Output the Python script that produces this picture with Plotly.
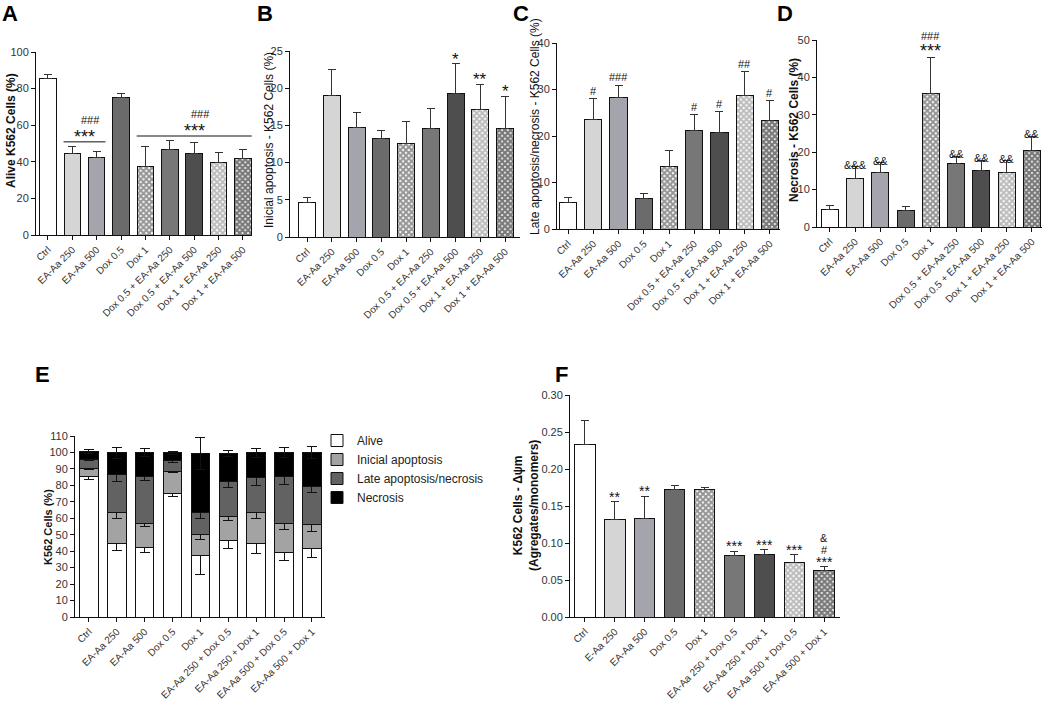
import plotly.graph_objects as go

W, H = 1045, 705

# ---- data ----
groups_ad = ["Ctrl", "EA-Aa 250", "EA-Aa 500", "Dox 0.5", "Dox 1",
             "Dox 0.5 + EA-Aa 250", "Dox 0.5 + EA-Aa 500",
             "Dox 1 + EA-Aa 250", "Dox 1 + EA-Aa 500"]
groups_e = ["Ctrl", "EA-Aa 250", "EA-Aa 500", "Dox 0.5", "Dox 1",
            "EA-Aa 250 + Dox 0.5", "EA-Aa 250 + Dox 1",
            "EA-Aa 500 + Dox 0.5", "EA-Aa 500 + Dox 1"]
groups_f = ["Ctrl", "E-Aa 250", "EA-Aa 500", "Dox 0.5", "Dox 1",
            "EA-Aa 250 + Dox 0.5", "EA-Aa 250 + Dox 1",
            "EA-Aa 500 + Dox 0.5", "EA-Aa 500 + Dox 1"]

alive = [85.5, 44.4, 42.4, 75.3, 37.3, 46.7, 44.4, 39.5, 41.6]
alive_err = [2.0, 4.0, 3.2, 1.8, 11.2, 4.9, 6.0, 5.4, 5.3]
early_apo = [4.7, 19.0, 14.7, 13.3, 12.6, 14.6, 19.3, 17.1, 14.6]
early_apo_err = [0.6, 3.5, 2.1, 1.0, 2.9, 2.7, 4.0, 3.4, 4.3]
late_apo = [5.8, 23.5, 28.3, 6.6, 13.5, 21.1, 20.8, 28.8, 23.4]
late_apo_err = [1.0, 4.5, 2.6, 1.1, 3.4, 3.5, 4.4, 5.0, 4.2]
necrosis = [4.6, 12.9, 14.6, 4.5, 35.8, 16.9, 15.2, 14.5, 20.4]
necrosis_err = [1.2, 3.2, 2.6, 1.1, 9.6, 2.0, 2.7, 3.2, 3.8]
dpsi = [0.233, 0.132, 0.133, 0.172, 0.172, 0.083, 0.085, 0.074, 0.063]
dpsi_err = [0.032, 0.024, 0.030, 0.006, 0.003, 0.006, 0.006, 0.010, 0.005]

sig_b = ["", "", "", "", "", "", "*", "**", "*"]
sig_c = ["", "#", "###", "", "", "#", "#", "##", "#"]
sig_d = ["", "&&&", "&&", "", "***", "&&", "&&", "&&", "&&"]
sig_d2 = ["", "", "", "", "###", "", "", "", ""]
sig_f = ["", "**", "**", "", "", "***", "***", "***", "***"]
sig_f2 = ["", "", "", "", "", "", "", "", "#"]
sig_f3 = ["", "", "", "", "", "", "", "", "&"]
# bracket groups in panel A: (first index, last index)
a_brackets = [(1, 2), (4, 8)]

# ---- styling ----
FONT = "Liberation Sans, Arial, sans-serif"
fill = ["#ffffff", "#d5d5d5", "#a4a4ac", "#6b6b6b", "#959595",
        "#777777", "#4e4e4e", "#bcbcbc", "#7a7a7a"]
fg = ["#000000", "#000000", "#000000", "#000000", "#000000",
      "#000000", "#000000", "#3a3a3a", "#000000"]
shape = ["", "", "", "", "x", "", "", "x", "x"]
solid = [0.5, 0.5, 0.5, 0.5, 0.75, 0.5, 0.5, 0.75, 0.8]
stack_cols = ["#ffffff", "#a3a3a3", "#626262", "#000000"]

# panel boxes in pixels: (left, right, top, bottom), x range, y range, y ticks
panels = {
    1: dict(px=(36, 252), py=(52, 235), xr=(-0.49, 8.37), yr=(0, 100), dt=20),
    2: dict(px=(290, 520), py=(51, 237), xr=(-0.69, 8.6), yr=(0, 25), dt=5),
    3: dict(px=(557, 780), py=(43, 229), xr=(-0.44, 8.4), yr=(0, 40), dt=10),
    4: dict(px=(817, 1042), py=(40, 227), xr=(-0.51, 8.4), yr=(0, 50), dt=10),
    5: dict(px=(75, 325), py=(436, 617), xr=(-0.5, 8.47), yr=(0, 110), dt=10),
    6: dict(px=(570, 840), py=(395, 617), xr=(-0.5, 8.53), yr=(0, 0.30), dt=0.05),
}

fig = go.Figure()


def err(vals):
    return dict(type="data", array=vals, arrayminus=[0] * len(vals),
                symmetric=False, color="#333333", thickness=1, width=4)


def bar_trace(n, cats, vals, errs):
    return go.Bar(
        x=cats, y=vals, error_y=err(errs), xaxis=f"x{n}", yaxis=f"y{n}",
        showlegend=False, width=0.68,
        marker=dict(color=fill, line=dict(color="#111111", width=1),
                    pattern=dict(shape=shape, fgcolor=fg, size=4,
                                 solidity=solid)),
    )


fig.add_trace(bar_trace(1, groups_ad, alive, alive_err))
fig.add_trace(bar_trace(2, groups_ad, early_apo, early_apo_err))
fig.add_trace(bar_trace(3, groups_ad, late_apo, late_apo_err))
fig.add_trace(bar_trace(4, groups_ad, necrosis, necrosis_err))
fig.add_trace(bar_trace(6, groups_f, dpsi, dpsi_err))

# panel E: stacked
for name, vals, errs, col in zip(
    ["Alive", "Inicial apoptosis", "Late apoptosis/necrosis", "Necrosis"],
    [alive, early_apo, late_apo, necrosis],
    [alive_err, early_apo_err, late_apo_err, necrosis_err],
    stack_cols,
):
    fig.add_trace(go.Bar(
        x=groups_e, y=vals, name=name, xaxis="x5", yaxis="y5", width=0.66,
        marker=dict(color=col, line=dict(color="#111111", width=1)),
        error_y=dict(type="data", array=errs, color="#111111",
                     thickness=1, width=5),
    ))

layout = {}
for n, p in panels.items():
    l, r = p["px"]
    t, b = p["py"]
    ticks = []
    v = p["yr"][0]
    while v <= p["yr"][1] + 1e-9:
        ticks.append(round(v, 4))
        v += p["dt"]
    layout[f"xaxis{n}"] = dict(
        domain=[l / W, r / W], range=list(p["xr"]), anchor=f"y{n}",
        type="category", showline=True, linecolor="#111111", linewidth=1,
        ticks="outside", ticklen=4, tickcolor="#111111", tickangle=-45,
        tickfont=dict(size=10, color="#333333"), showgrid=False,
        automargin=False, fixedrange=True,
    )
    layout[f"yaxis{n}"] = dict(
        domain=[1 - b / H, 1 - t / H], range=list(p["yr"]), anchor=f"x{n}",
        showline=True, linecolor="#111111", linewidth=1, ticks="outside",
        ticklen=4, tickcolor="#111111", tickvals=ticks,
        tickformat=".2f" if n == 6 else "d",
        tickfont=dict(size=11, color="#333333"), showgrid=False,
        zeroline=False, automargin=False, fixedrange=True,
    )

fig.update_layout(
    template="none",
    width=W, height=H, margin=dict(l=0, r=0, t=0, b=0, pad=0),
    paper_bgcolor="white", plot_bgcolor="white",
    font=dict(family=FONT, color="#222222"),
    barmode="stack", bargap=0.32,
    legend=dict(x=317 / W, y=1 - 426 / H, xanchor="left", yanchor="top",
                traceorder="normal", font=dict(size=12, color="#222222"),
                tracegroupgap=0, itemwidth=30, bgcolor="rgba(0,0,0,0)"),
    **layout,
)

# panel letters
for letter, x, y in [("A", 10, 13), ("B", 265, 13), ("C", 521, 13),
                     ("D", 785, 13), ("E", 42, 374), ("F", 561, 374)]:
    fig.add_annotation(text=f"<b>{letter}</b>", x=x / W, y=1 - y / H,
                       xref="paper", yref="paper", showarrow=False,
                       xanchor="center", yanchor="middle",
                       font=dict(size=22, color="#000000"))

# y-axis titles
for text, x, y, size in [
    ("<b>Alive K562 Cells (%)</b>", 11, 131, 12),
    ("Inicial apoptosis - K562 Cells (%)", 269, 140, 12),
    ("Late apoptosis/necrosis - K562 Cells (%)", 535, 127, 12),
    ("<b>Necrosis - K562 Cells (%)</b>", 794, 130, 12),
    ("<b>K562 Cells (%)</b>", 48, 527, 11),
    ("<b>K562 Cells - Δψm<br>(Agregates/monomers)</b>", 526, 506, 12),
]:
    fig.add_annotation(text=text, x=x / W, y=1 - y / H, xref="paper",
                       yref="paper", showarrow=False, textangle=-90,
                       xanchor="center", yanchor="middle",
                       font=dict(size=size, color="#111111"))


def marks(n, cats, vals, errs, texts, size, shift, xshift=0):
    for c, v, e, t in zip(cats, vals, errs, texts):
        if not t:
            continue
        star = "*" in t
        fig.add_annotation(text=t, x=c, y=v + e, xref=f"x{n}", yref=f"y{n}",
                           showarrow=False, yanchor="bottom", yshift=shift,
                           xshift=xshift,
                           font=dict(size=size if star else 11,
                                     color="#111111"))


# panel A brackets
for i0, i1 in a_brackets:
    top = max(a + e for a, e in zip(alive[i0:i1 + 1], alive_err[i0:i1 + 1]))
    yline = top + 2.5
    fig.add_shape(type="line", xref="x1", yref="y1", x0=i0 - 0.36,
                  x1=i1 + 0.36, y0=yline, y1=yline,
                  line=dict(color="#111111", width=1))
    mid = (i0 + i1) / 2
    fig.add_annotation(text="***", x=mid, y=yline, xref="x1", yref="y1",
                       showarrow=False, yanchor="bottom", yshift=-7,
                       font=dict(size=18, color="#111111"))
    fig.add_annotation(text="###", x=mid, y=yline, xref="x1", yref="y1",
                       showarrow=False, yanchor="bottom", yshift=14,
                       xshift=6, font=dict(size=11, color="#111111"))

marks(2, groups_ad, early_apo, early_apo_err, sig_b, 17, -7)
marks(3, groups_ad, late_apo, late_apo_err, sig_c, 17, 0)
marks(4, groups_ad, necrosis, necrosis_err, sig_d, 18, -6)
marks(4, groups_ad, necrosis, necrosis_err, sig_d2, 17, 13)
marks(6, groups_f, dpsi, dpsi_err, sig_f, 14, -5)
marks(6, groups_f, dpsi, dpsi_err, sig_f2, 14, 9)
marks(6, groups_f, dpsi, dpsi_err, sig_f3, 14, 21)

# the page's default body margin would push the figure off its box
fig.write_html("out.html", config={"displayModeBar": False},
               post_script="document.body.style.margin = '0';")
